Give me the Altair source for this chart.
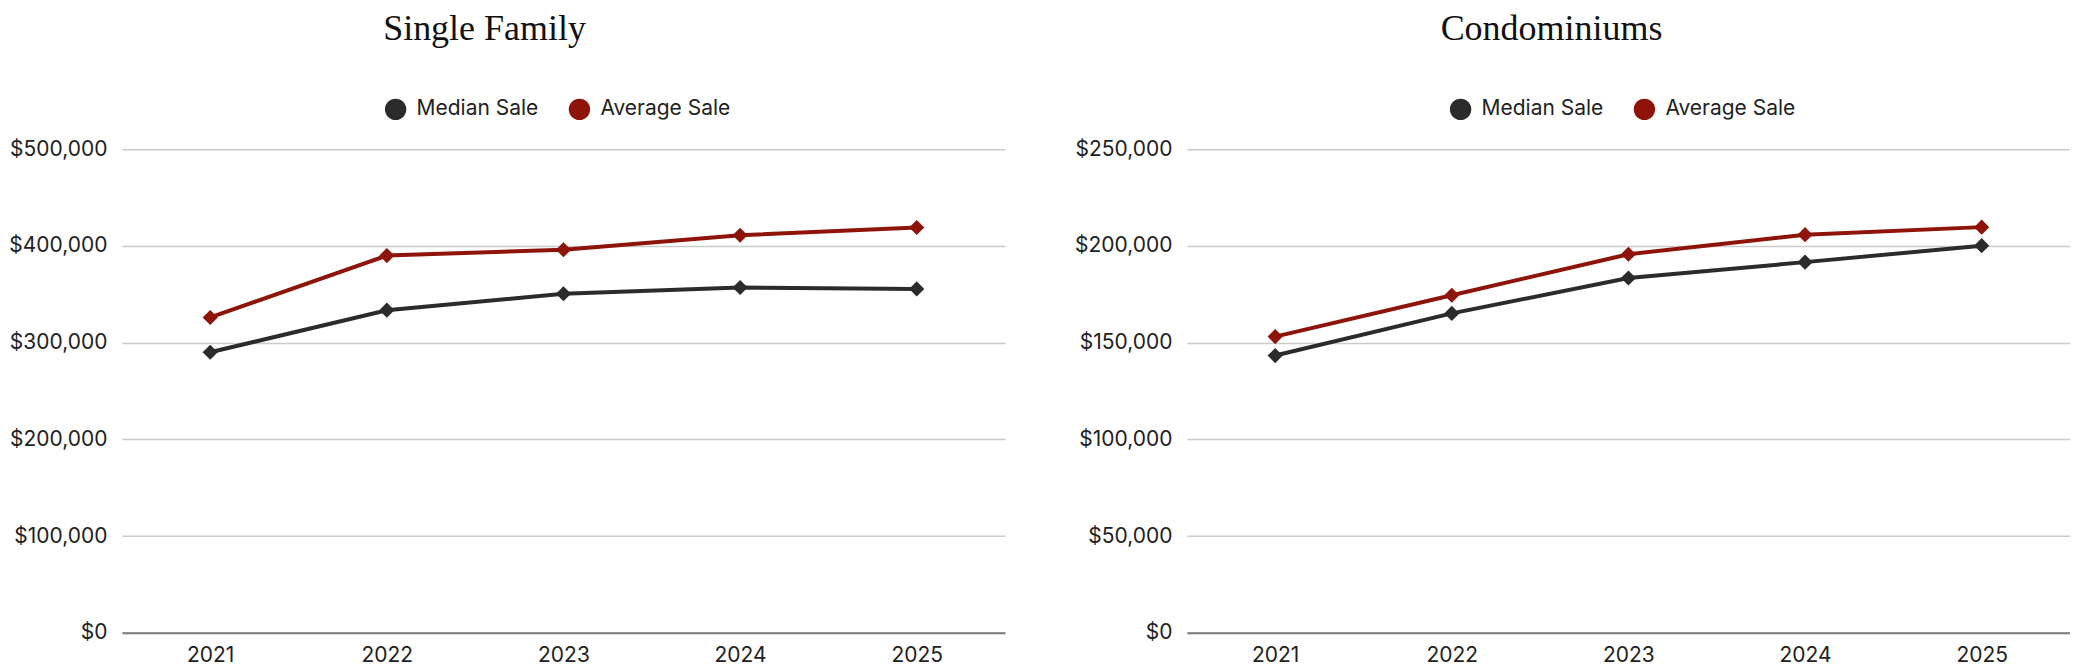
import altair as alt
import pandas as pd

years = ["2021", "2022", "2023", "2024", "2025"]
series_names = ["Median Sale", "Average Sale"]

sf_median = [290000, 333500, 350500, 357000, 355500]
sf_average = [326000, 390000, 396000, 411000, 419000]

condo_median = [143300, 165100, 183400, 191600, 200100]
condo_average = [153100, 174500, 195700, 205800, 209700]

DARK = "#2b2b2b"
RED = "#8e1409"
SANS = "Inter"
SERIF = "Liberation Serif"


def panel(title, med, avg, ymax, step, dx):
    rows = []
    for y, v in zip(years, med):
        rows.append({"Year": y, "Value": v, "Series": series_names[0]})
    for y, v in zip(years, avg):
        rows.append({"Year": y, "Value": v, "Series": series_names[1]})
    df = pd.DataFrame(rows)

    color = alt.Color(
        "Series:N",
        scale=alt.Scale(domain=series_names, range=[DARK, RED]),
        legend=alt.Legend(
            title=None,
            orient="none",
            direction="horizontal",
            legendX=263,
            legendY=-51,
            symbolType="circle",
            symbolSize=460,
            symbolStrokeWidth=0,
            symbolOpacity=1,
            labelFont=SANS,
            labelFontSize=21,
            labelColor="#222222",
            labelOffset=10,
            columnPadding=30,
            padding=0,
        ),
    )
    base = alt.Chart(df).encode(
        x=alt.X(
            "Year:O",
            sort=years,
            scale=alt.Scale(type="point", padding=0.5),
            axis=alt.Axis(
                title=None,
                labelAngle=0,
                labelFont=SANS,
                labelFontSize=21,
                labelColor="#222222",
                labelPadding=12,
                ticks=False,
                grid=False,
                domain=True,
                domainColor="#7a7a7a",
                domainWidth=2,
                zindex=1,
            ),
        ),
        y=alt.Y(
            "Value:Q",
            scale=alt.Scale(domain=[0, ymax]),
            axis=alt.Axis(
                title=None,
                values=list(range(0, ymax + 1, step)),
                format="$,.0f",
                labelFont=SANS,
                labelFontSize=21,
                labelColor="#222222",
                labelPadding=15,
                ticks=False,
                domain=False,
                grid=True,
                gridColor="#cccccc",
                gridWidth=1.5,
            ),
        ),
        color=color,
        order=alt.Order("Year:O"),
    )
    line = base.mark_line(strokeWidth=4)
    pts = base.mark_point(shape="diamond", filled=True, size=230, opacity=1)
    return alt.layer(line, pts).properties(
        width=884,
        height=484,
        title=alt.TitleParams(
            title,
            font=SERIF,
            fontSize=36,
            fontWeight="normal",
            color="#111111",
            anchor="middle",
            offset=50,
            dx=dx,
        ),
    )


left = panel("Single Family", sf_median, sf_average, 500000, 100000, -79)
right = panel("Condominiums", condo_median, condo_average, 250000, 50000, -77)

chart = (
    alt.hconcat(left, right, spacing=69)
    .resolve_legend(color="independent")
    .resolve_scale(color="independent", y="independent")
    .properties(padding={"top": 3, "left": 0, "right": 0, "bottom": 0})
    .configure_view(stroke=None)
)

chart.save("out.html", embed_options={"renderer": "svg", "actions": False})
